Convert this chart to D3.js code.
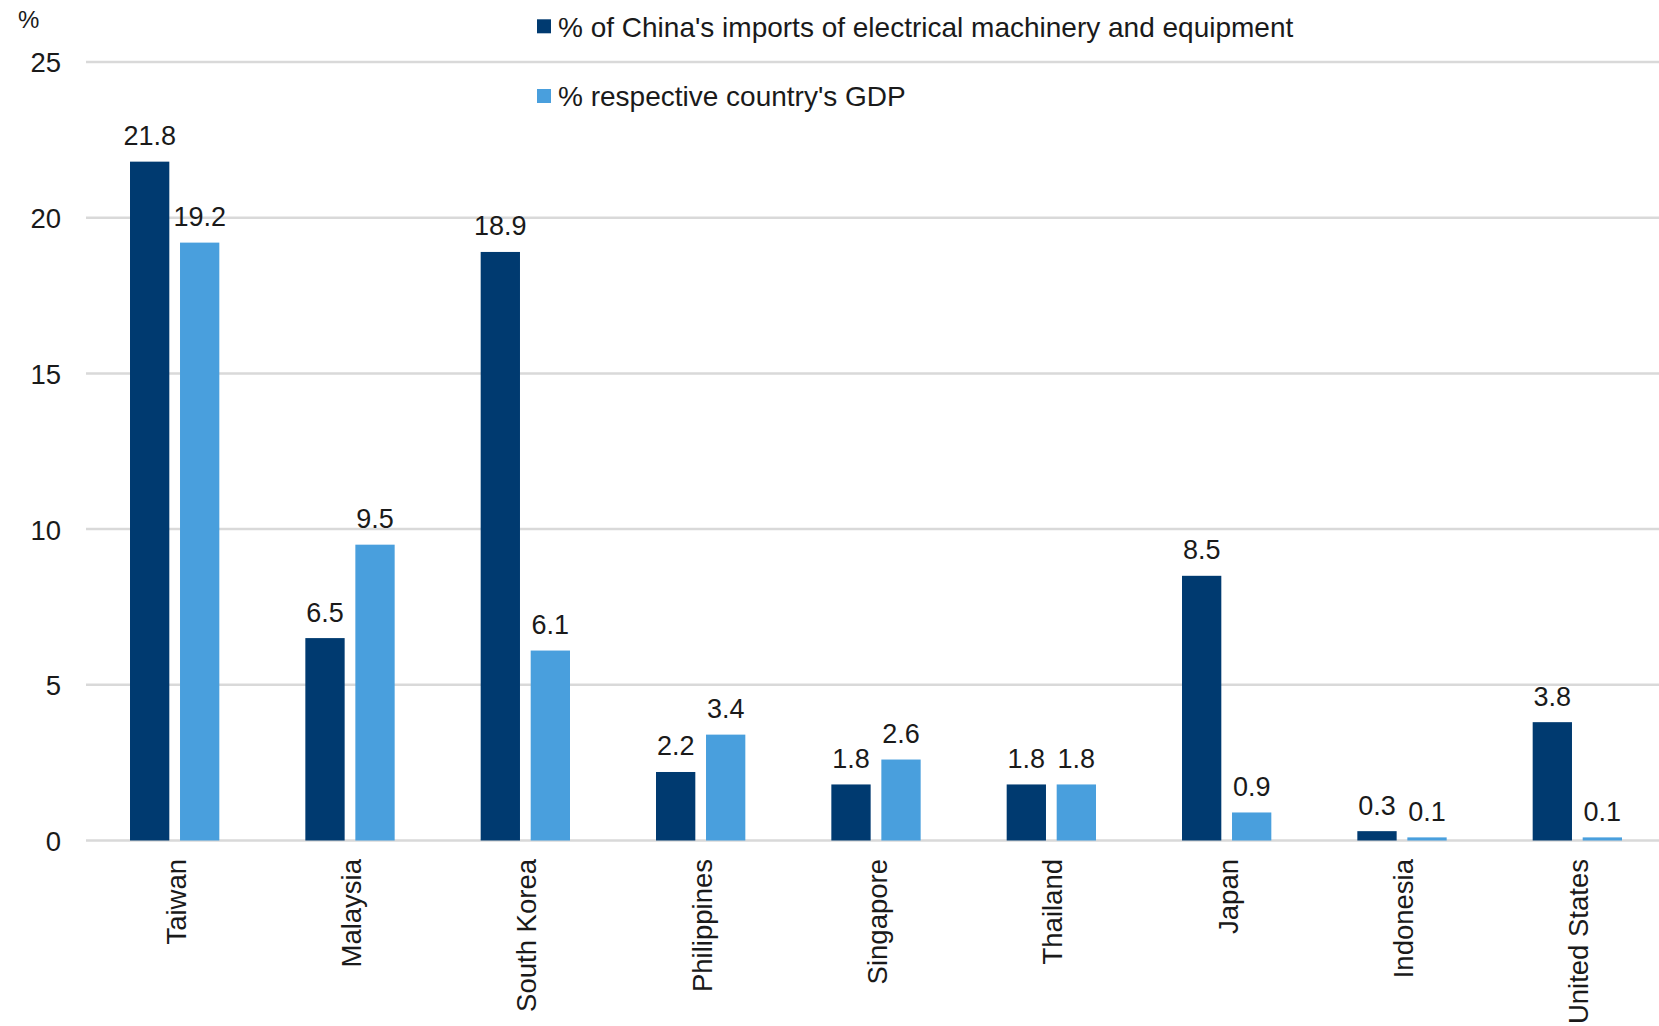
<!DOCTYPE html>
<html>
<head>
<meta charset="utf-8">
<script src="https://cdn.jsdelivr.net/npm/d3@7"></script>
<style>
  html, body { margin: 0; padding: 0; background: #fff; }
  svg { display: block; font-family: "Liberation Sans", Arial, sans-serif; }
</style>
</head>
<body>
<svg id="chart" width="1659" height="1026"></svg>
<script>
// Countries along the x axis
const categories = ["Taiwan", "Malaysia", "South Korea", "Philippines", "Singapore",
                    "Thailand", "Japan", "Indonesia", "United States"];
// Share of China's imports of electrical machinery and equipment (%)
const importsShare = [21.8, 6.5, 18.9, 2.2, 1.8, 1.8, 8.5, 0.3, 3.8];
// Same exports as a share of the exporting country's GDP (%)
const gdpShare = [19.2, 9.5, 6.1, 3.4, 2.6, 1.8, 0.9, 0.1, 0.1];
const seriesNames = ["% of China's imports of electrical machinery and equipment",
                     "% respective country's GDP"];
const yTicks = [0, 5, 10, 15, 20, 25];

const colors = ["#003a70", "#499fdd"];
const series = [importsShare, gdpShare];

const svg = d3.select("#chart");
const W = 1659;

const x0 = d3.scaleBand().domain(categories).range([87, 1665]).padding(0);
const x1 = d3.scaleBand().domain([0, 1]).range([0, x0.bandwidth()])
  .paddingInner(0.214).paddingOuter(0.86);
const y = d3.scaleLinear().domain([0, 25]).range([840.5, 62]);

// Horizontal gridlines
svg.append("g").selectAll("line").data(yTicks).join("line")
  .attr("x1", 86).attr("x2", W)
  .attr("y1", d => y(d)).attr("y2", d => y(d))
  .attr("stroke", "#d9d9d9").attr("stroke-width", 2.5);

// Y axis labels
const yAxis = d3.axisLeft(y).tickValues(yTicks).tickSize(0).tickPadding(0);
const gy = svg.append("g").attr("transform", "translate(61,0)").call(yAxis);
gy.select(".domain").remove();
gy.selectAll("text")
  .attr("font-size", 27.5).attr("fill", "#1a1a1a")
  .attr("font-family", "Liberation Sans, Arial, sans-serif")
  .attr("dy", "0.36em");

// Unit label
svg.append("text").attr("x", 18).attr("y", 28)
  .attr("font-size", 24).attr("fill", "#1a1a1a").text("%");

// Bars and value labels
const groups = svg.append("g").selectAll("g").data(categories).join("g")
  .attr("transform", d => `translate(${x0(d)},0)`);

groups.selectAll("rect")
  .data((d, i) => series.map((s, k) => ({ k, v: s[i] })))
  .join("rect")
  .attr("x", d => x1(d.k))
  .attr("width", x1.bandwidth())
  .attr("y", d => y(d.v))
  .attr("height", d => y(0) - y(d.v))
  .attr("fill", d => colors[d.k]);

groups.selectAll("text.val")
  .data((d, i) => series.map((s, k) => ({ k, v: s[i] })))
  .join("text")
  .attr("class", "val")
  .attr("x", d => x1(d.k) + x1.bandwidth() / 2)
  .attr("y", d => y(d.v) - 16.5)
  .attr("text-anchor", "middle")
  .attr("font-size", 27).attr("fill", "#1a1a1a")
  .text(d => d3.format(".1f")(d.v));

// Category axis with rotated labels
const xAxis = d3.axisBottom(x0).tickSize(0).tickPadding(0);
const gx = svg.append("g").attr("transform", "translate(0,859)").call(xAxis);
gx.select(".domain").remove();
gx.selectAll("text")
  .attr("font-size", 27.5).attr("fill", "#1a1a1a")
  .attr("font-family", "Liberation Sans, Arial, sans-serif")
  .attr("text-anchor", "end")
  .attr("transform", "rotate(-90)")
  .attr("x", 0).attr("y", 0)
  .attr("dx", 0).attr("dy", 11);

// Legend
const legend = svg.append("g");
const legendRows = [26.3, 96];
seriesNames.forEach((name, k) => {
  legend.append("rect")
    .attr("x", 537).attr("y", legendRows[k] - 7)
    .attr("width", 14).attr("height", 14)
    .attr("fill", colors[k]);
  legend.append("text")
    .attr("x", 558).attr("y", legendRows[k] + 10.2)
    .attr("font-size", 28).attr("fill", "#1a1a1a")
    .text(name);
});
</script>
</body>
</html>
